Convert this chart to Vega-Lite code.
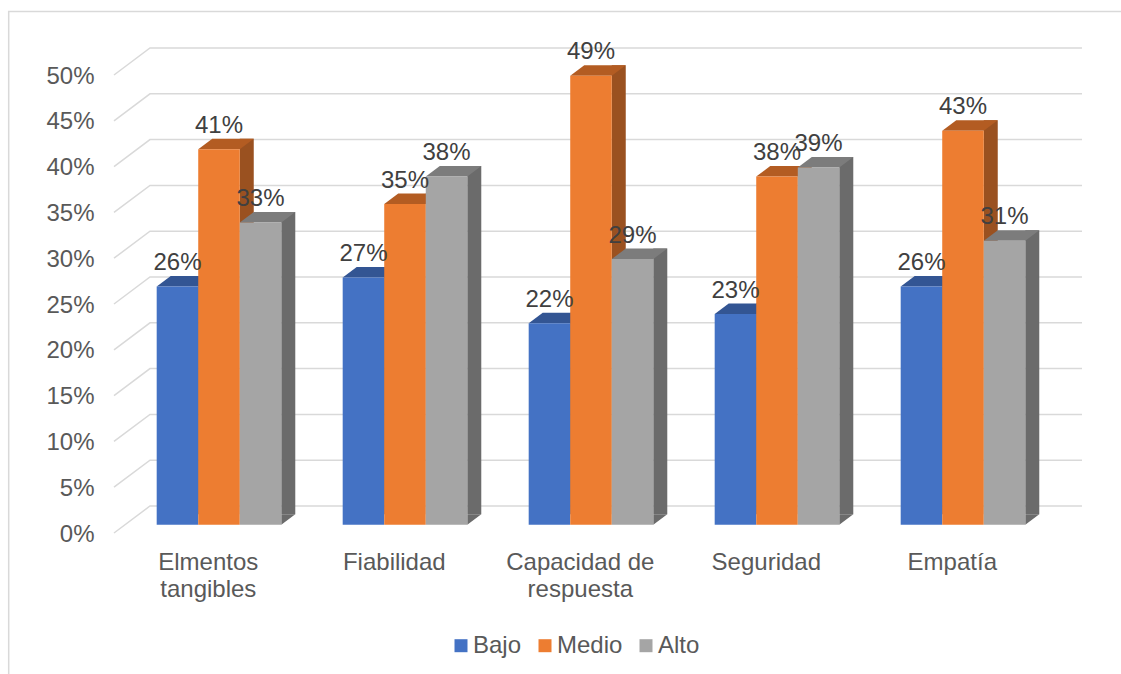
{
"$schema":"https://vega.github.io/schema/vega-lite/v6.json",
"autosize":{"type":"none"},
"padding":{"left":126,"top":66.7,"right":65,"bottom":149.3},
"width":930,"height":458,
"background":"white",
"config":{"view":{"stroke":null},"font":"Liberation Sans"},
"data":{"values":[
{"cat":"Elmentos tangibles","serie":"Bajo","v":0.26},{"cat":"Elmentos tangibles","serie":"Medio","v":0.41},{"cat":"Elmentos tangibles","serie":"Alto","v":0.33},
{"cat":"Fiabilidad","serie":"Bajo","v":0.27},{"cat":"Fiabilidad","serie":"Medio","v":0.35},{"cat":"Fiabilidad","serie":"Alto","v":0.38},
{"cat":"Capacidad de respuesta","serie":"Bajo","v":0.22},{"cat":"Capacidad de respuesta","serie":"Medio","v":0.49},{"cat":"Capacidad de respuesta","serie":"Alto","v":0.29},
{"cat":"Seguridad","serie":"Bajo","v":0.23},{"cat":"Seguridad","serie":"Medio","v":0.38},{"cat":"Seguridad","serie":"Alto","v":0.39},
{"cat":"Empatía","serie":"Bajo","v":0.26},{"cat":"Empatía","serie":"Medio","v":0.43},{"cat":"Empatía","serie":"Alto","v":0.31}
]},
"encoding":{
"x":{"field":"cat","type":"nominal","title":null,"sort":null,
"scale":{"domain":["Elmentos tangibles","Fiabilidad","Capacidad de respuesta","Seguridad","Empatía"],"paddingInner":0.33,"paddingOuter":0.165},
"axis":{"labelAngle":0,"domain":false,"ticks":false,"grid":false,"labelFontSize":24,"labelColor":"#595959","labelFont":"Liberation Sans","labelOffset":-10.7,"labelPadding":26,"labelLineHeight":27,"labelBaseline":"top","labelOverlap":false,"labelLimit":0,
"labelExpr":"datum.label=='Elmentos tangibles'?['Elmentos','tangibles']:datum.label=='Capacidad de respuesta'?['Capacidad de','respuesta']:datum.label"}},
"xOffset":{"field":"serie","type":"nominal","sort":null,"scale":{"domain":["Bajo","Medio","Alto"]}},
"y":{"field":"v","type":"quantitative","title":null,"scale":{"domain":[0,0.5],"nice":false},
"axis":{"format":".0%","values":[0,0.05,0.1,0.15,0.2,0.25,0.3,0.35,0.4,0.45,0.5],"domain":false,"ticks":false,"grid":false,"labelFontSize":24,"labelColor":"#595959","labelFont":"Liberation Sans","labelPadding":32,"labelOffset":9.3,"labelBound":false,"labelFlush":false}}
},
"resolve":{"scale":{"color":"independent"}},
"layer":[
{"data":{"values":[{"tick":0},{"tick":0.05},{"tick":0.1},{"tick":0.15},{"tick":0.2},{"tick":0.25},{"tick":0.3},{"tick":0.35},{"tick":0.4},{"tick":0.45},{"tick":0.5}]},
"mark":{"type":"point","filled":false,"opacity":1,"size":4,"stroke":"#D9D9D9","strokeWidth":1.5,"shape":"M-42.7,8.3 L-6.7,-18.7 L925.3,-18.7"},
"encoding":{"x":{"datum":"Elmentos tangibles","bandPosition":0},"xOffset":null,"y":{"field":"tick","type":"quantitative"}}},
{"data":{"values":[{"frame":0}]},
"mark":{"type":"point","filled":false,"opacity":1,"size":4,"stroke":"#D9D9D9","strokeWidth":1.5,"shape":"M-148,149.3 L-148,-513.2 L964.3,-513.2"},
"encoding":{"x":{"datum":"Elmentos tangibles","bandPosition":0},"xOffset":null,"y":{"field":"frame","type":"quantitative"}}},
{"transform":[{"filter":"datum.serie=='Bajo'"}],
"mark":{"type":"rule","strokeWidth":14,"strokeCap":"butt","color":"#2C4A80","xOffset":-13.78,"yOffset":-10.5,"y2Offset":-10.5},
"encoding":{"xOffset":null,"y2":{"datum":0}}},
{"transform":[{"filter":"datum.serie=='Medio'"}],
"mark":{"type":"rule","strokeWidth":14,"strokeCap":"butt","color":"#9A5120","xOffset":27.75,"yOffset":-10.5,"y2Offset":-10.5},
"encoding":{"xOffset":null,"y2":{"datum":0}}},
{"transform":[{"filter":"datum.serie=='Alto'"}],
"mark":{"type":"rule","strokeWidth":14,"strokeCap":"butt","color":"#6B6B6B","xOffset":69.28,"yOffset":-10.5,"y2Offset":-10.5},
"encoding":{"xOffset":null,"y2":{"datum":0}}},
{"transform":[{"filter":"datum.serie=='Alto'"}],
"mark":{"type":"point","filled":true,"opacity":1,"size":4,"strokeWidth":0,"color":"#6B6B6B","shape":"M20.75,0 L34.75,-10.5 L20.75,-10.5 Z"},
"encoding":{"y":{"datum":0}}},
{"mark":{"type":"point","filled":true,"opacity":1,"size":4,"strokeWidth":0,"shape":"M-20.75,0 L20.75,0 L34.75,-10.5 L-6.75,-10.5 Z"},
"encoding":{"color":{"field":"serie","type":"nominal","legend":null,"scale":{"domain":["Bajo","Medio","Alto"],"range":["#335593","#B35C22","#7C7C7C"]}}}},
{"mark":{"type":"bar"},
"encoding":{"color":{"field":"serie","type":"nominal","scale":{"domain":["Bajo","Medio","Alto"],"range":["#4472C4","#ED7D31","#A5A5A5"]},
"legend":{"title":null,"orient":"none","direction":"horizontal","legendX":323,"legendY":567,"symbolType":"square","symbolSize":169,"symbolStrokeWidth":0,"labelFontSize":24,"labelColor":"#595959","labelFont":"Liberation Sans","labelOffset":0,"columnPadding":11,"symbolOpacity":1}}}},
{"mark":{"type":"text","fontSize":24,"font":"Liberation Sans","color":"#404040","dy":-23.5},
"encoding":{"text":{"field":"v","type":"quantitative","format":".0%"}}}
]
}
